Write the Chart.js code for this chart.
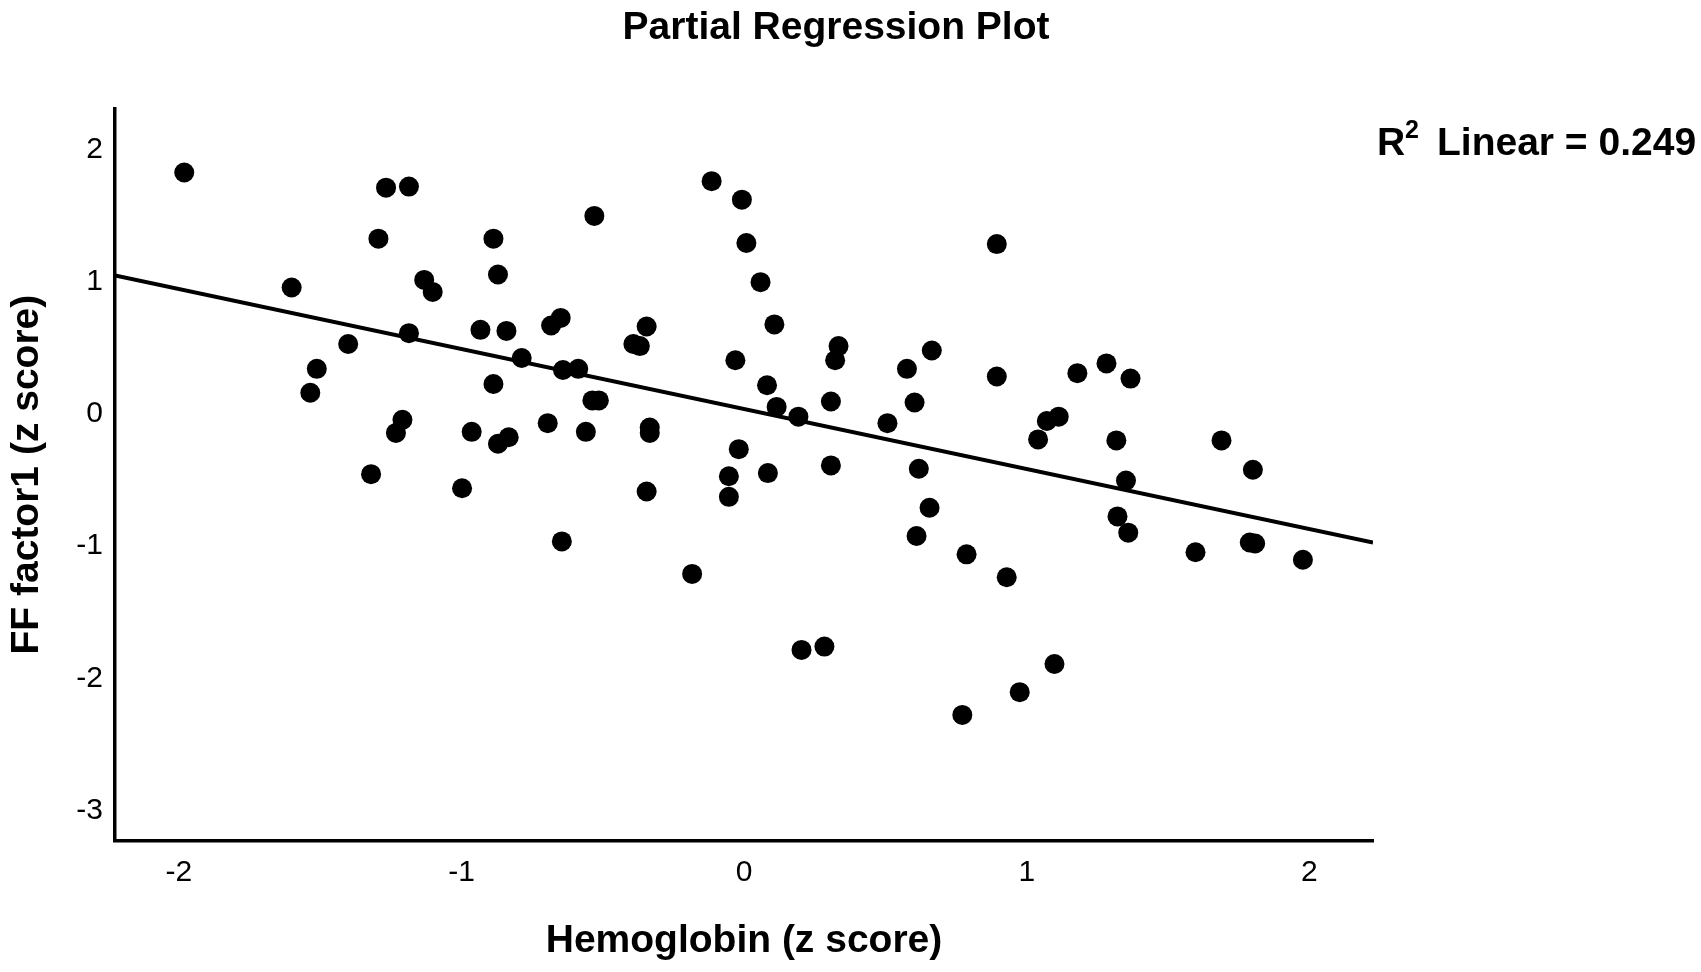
<!DOCTYPE html>
<html>
<head>
<meta charset="utf-8">
<title>Partial Regression Plot</title>
<script src="https://cdn.jsdelivr.net/npm/chart.js@4"></script>
<style>
  body { margin: 0; background: #fff; }
  #wrap { width: 1701px; height: 972px; position: relative; }
</style>
</head>
<body>
<div id="wrap"><canvas id="chartPartial"></canvas></div>
<script>
// Hemoglobin (z score) vs FF factor1 (z score)
const hemoglobinZ = [
  -1.981, -1.267, -1.186, -1.294, -1.601, -1.132, -1.102, -1.401, -1.512, -1.535,
  -1.186, -1.232, -1.209, -1.320, -0.998, -0.964, -0.933, -0.887, -0.871, -0.841,
  -0.887, -0.871, -0.833, -0.787, -0.695, -0.683, -0.649, -0.641, -0.587, -0.645,
  -0.560, -0.537, -0.514, -0.530, -0.392, -0.369, -0.345, -0.334, -0.334, -0.345,
  -0.184, -0.115, -0.008, 0.008, -0.031, -0.019, -0.054, -0.054, 0.058, 0.107,
  0.081, 0.115, 0.084, 0.192, 0.203, 0.284, 0.307, 0.307, 0.334, 0.322,
  0.507, 0.576, 0.603, 0.618, 0.610, 0.656, 0.664, 0.787, 0.772, 0.894,
  0.894, 0.929, 0.975, 1.040, 1.071, 1.113, 1.098, 1.179, 1.282, 1.317,
  1.367, 1.351, 1.321, 1.359, 1.597, 1.689, 1.800, 1.789, 1.808, 1.977
];
const factor1Z = [
  1.828, 1.713, 1.721, 1.327, 0.957, 1.015, 0.924, 0.530, 0.342, 0.161,
  0.612, -0.143, -0.044, -0.455, -0.562, -0.135, 0.637, 1.327, 1.056, 0.629,
  0.227, -0.225, -0.176, 0.424, -0.069, 0.670, 0.727, 0.333, 0.342, -0.964,
  -0.135, 0.103, 0.103, 1.499, 0.530, 0.514, 0.662, -0.102, -0.143, -0.586,
  -1.210, 1.762, 1.622, 1.294, 0.407, -0.266, -0.471, -0.627, 0.998, 0.678,
  0.218, 0.054, -0.447, -0.020, -1.785, -1.760, 0.095, -0.389, 0.514, 0.407,
  -0.069, 0.342, 0.087, -0.414, -0.923, -0.709, 0.481, -1.062, -2.277, 1.286,
  0.284, -1.235, -2.105, -0.192, -0.053, -0.020, -1.892, 0.309, 0.383, -0.200,
  0.268, -0.504, -0.775, -0.898, -1.046, -0.200, -0.422, -0.972, -0.980, -1.103
];

// fit line end points (as drawn)
const fitX = [-2.226, 2.225];
const fitY = [1.048, -0.972];

const xTicks = [-2, -1, 0, 1, 2];
const yTicks = [-3, -2, -1, 0, 1, 2];

const chartTitle = "Partial Regression Plot";
const xTitle = "Hemoglobin (z score)";
const yTitle = "FF factor1 (z score)";
const r2Value = "0.249";

const fontFam = "'Liberation Sans', Arial, sans-serif";

// judul dan teks R² digambar manual
const textPlugin = {
  id: "textPlugin",
  afterDraw(chart) {
    const ctx = chart.ctx;
    ctx.save();
    ctx.fillStyle = "#000";
    ctx.textBaseline = "alphabetic";

    ctx.font = "bold 39px " + fontFam;
    ctx.textAlign = "center";
    ctx.fillText(chartTitle, 836, 39);

    ctx.textAlign = "left";
    ctx.fillText("R", 1377, 155);
    ctx.fillText("Linear = " + r2Value, 1437, 155);
    ctx.font = "bold 25px " + fontFam;
    ctx.fillText("2", 1405, 138);
    ctx.restore();
  }
};

const points = hemoglobinZ.map((x, i) => ({ x: x, y: factor1Z[i] }));
const linePts = fitX.map((x, i) => ({ x: x, y: fitY[i] }));

const ctx = document.getElementById("chartPartial").getContext("2d");
new Chart(ctx, {
  type: "scatter",
  data: {
    datasets: [
      {
        data: points,
        backgroundColor: "#000",
        borderColor: "#000",
        borderWidth: 0,
        pointRadius: 10,
        pointHoverRadius: 10
      },
      {
        type: "line",
        data: linePts,
        borderColor: "#000",
        borderWidth: 4,
        pointRadius: 0,
        fill: false
      }
    ]
  },
  options: {
    responsive: true,
    maintainAspectRatio: false,
    animation: false,
    layout: { padding: { top: 108.5, right: 328, left: 0, bottom: 0 } },
    plugins: {
      legend: { display: false },
      tooltip: { enabled: false }
    },
    scales: {
      x: {
        type: "linear",
        min: -2.226,
        max: 2.225,
        afterBuildTicks: s => { s.ticks = xTicks.map(v => ({ value: v })); },
        afterFit: s => { s.height = 131.3; },
        grid: { display: false, drawTicks: false },
        border: { display: true, color: "#000", width: 3.5 },
        ticks: {
          color: "#000",
          padding: 14,
          maxRotation: 0,
          font: { family: fontFam, size: 30 }
        },
        title: {
          display: true,
          text: xTitle,
          color: "#000",
          padding: { top: 0, bottom: 7 },
          font: { family: fontFam, size: 39, weight: "bold" }
        }
      },
      y: {
        type: "linear",
        min: -3.229,
        max: 2.312,
        afterBuildTicks: s => { s.ticks = yTicks.map(v => ({ value: v })); },
        afterFit: s => { s.width = 115; },
        grid: { display: false, drawTicks: false },
        border: { display: true, color: "#000", width: 3.5 },
        ticks: {
          color: "#000",
          padding: 12,
          font: { family: fontFam, size: 30 }
        },
        title: {
          display: true,
          text: yTitle,
          color: "#000",
          padding: { top: 3.6, bottom: 0 },
          font: { family: fontFam, size: 39, weight: "bold" }
        }
      }
    }
  },
  plugins: [textPlugin]
});
</script>
</body>
</html>
